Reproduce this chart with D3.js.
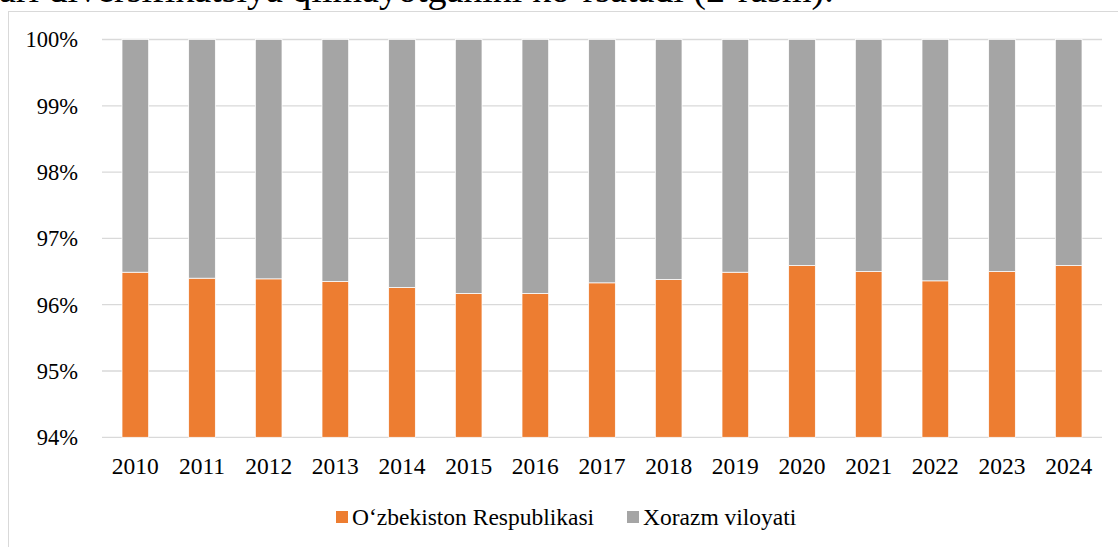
<!DOCTYPE html>
<html>
<head>
<meta charset="utf-8">
<script src="https://cdn.jsdelivr.net/npm/d3@7"></script>
<style>
  html, body { margin: 0; padding: 0; background: #fff; }
  svg text { font-family: 'Liberation Serif', 'Times New Roman', 'DejaVu Serif', serif; }
</style>
</head>
<body>
<div id="chart"></div>
<script>
// ma'lumotlar (ulushlar, %)
const years = ['2010', '2011', '2012', '2013', '2014', '2015', '2016', '2017',
               '2018', '2019', '2020', '2021', '2022', '2023', '2024'];
const uzbekistan = [96.49, 96.40, 96.39, 96.35, 96.26, 96.17, 96.17, 96.33,
                    96.38, 96.49, 96.59, 96.50, 96.36, 96.50, 96.59];
const xorazm = [3.51, 3.60, 3.61, 3.65, 3.74, 3.83, 3.83, 3.67,
                3.62, 3.51, 3.41, 3.50, 3.64, 3.50, 3.41];
const yTicks = [94, 95, 96, 97, 98, 99, 100];
const seriesNames = ['O‘zbekiston Respublikasi', 'Xorazm viloyati'];
const colors = ['#ED7D31', '#A5A5A5'];

const width = 1118, height = 547;
const plot = { left: 102, right: 1102, top: 39.5, bottom: 437.3 };
const serif = "'Liberation Serif', 'Times New Roman', 'DejaVu Serif', serif";

const svg = d3.select('#chart').append('svg')
    .attr('width', width)
    .attr('height', height)
    .attr('font-family', serif);

// yuqoridagi kesilgan matn (asl rasmda ham kesilgan)
svg.append('text')
    .attr('x', -1)
    .attr('y', 1.5)
    .attr('font-size', 38)
    .attr('font-family', serif)
    .attr('fill', '#000')
    .text('ari diversifikatsiya qilmayotganini ko‘rsatadi (2-rasm).');

// diagramma ramkasi
svg.append('rect')
    .attr('x', 8.5).attr('y', 11.5)
    .attr('width', 1300).attr('height', 700)
    .attr('fill', 'none')
    .attr('stroke', '#D9D9D9')
    .attr('stroke-width', 1);

const x = d3.scaleBand()
    .domain(years)
    .range([plot.left, plot.right])
    .paddingInner(0.6)
    .paddingOuter(0.3);

const y = d3.scaleLinear()
    .domain([94, 100])
    .range([plot.bottom, plot.top])
    .clamp(true);

// to'r chiziqlari
svg.append('g')
    .selectAll('line')
    .data(yTicks)
    .join('line')
    .attr('x1', plot.left).attr('x2', plot.right)
    .attr('y1', d => y(d)).attr('y2', d => y(d))
    .attr('stroke', '#D9D9D9')
    .attr('stroke-width', 1.3);

// stacked ustunlar
const table = years.map((yr, i) => ({ year: yr, a: uzbekistan[i], b: xorazm[i] }));
const stack = d3.stack().keys(['a', 'b'])(table);

svg.append('g')
    .selectAll('g')
    .data(stack)
    .join('g')
    .attr('fill', (d, i) => colors[i])
    .selectAll('rect')
    .data(d => d)
    .join('rect')
    .attr('x', d => x(d.data.year))
    .attr('width', x.bandwidth())
    .attr('y', d => y(d[1]))
    .attr('height', d => y(d[0]) - y(d[1]))
    .attr('stroke', '#fff')
    .attr('stroke-width', 0.75);

// y o'qi yozuvlari
svg.append('g')
    .selectAll('text')
    .data(yTicks)
    .join('text')
    .attr('x', 78)
    .attr('y', d => y(d))
    .attr('dy', '0.35em')
    .attr('text-anchor', 'end')
    .attr('font-size', 22.5)
    .attr('font-family', serif)
    .attr('fill', '#000')
    .text(d => d + '%');

// x o'qi yozuvlari
svg.append('g')
    .selectAll('text')
    .data(years)
    .join('text')
    .attr('x', d => x(d) + x.bandwidth() / 2)
    .attr('y', 474)
    .attr('text-anchor', 'middle')
    .attr('font-size', 23.5)
    .attr('font-family', serif)
    .attr('fill', '#000')
    .text(d => d);

// legenda
const legendX = [336, 627];
const legend = svg.append('g')
    .selectAll('g')
    .data(seriesNames)
    .join('g')
    .attr('transform', (d, i) => `translate(${legendX[i]},511)`);

legend.append('rect')
    .attr('width', 12).attr('height', 12)
    .attr('fill', (d, i) => colors[i]);

legend.append('text')
    .attr('x', 16)
    .attr('y', 14)
    .attr('font-size', 23.5)
    .attr('font-family', serif)
    .attr('fill', '#000')
    .text(d => d);
</script>
</body>
</html>
